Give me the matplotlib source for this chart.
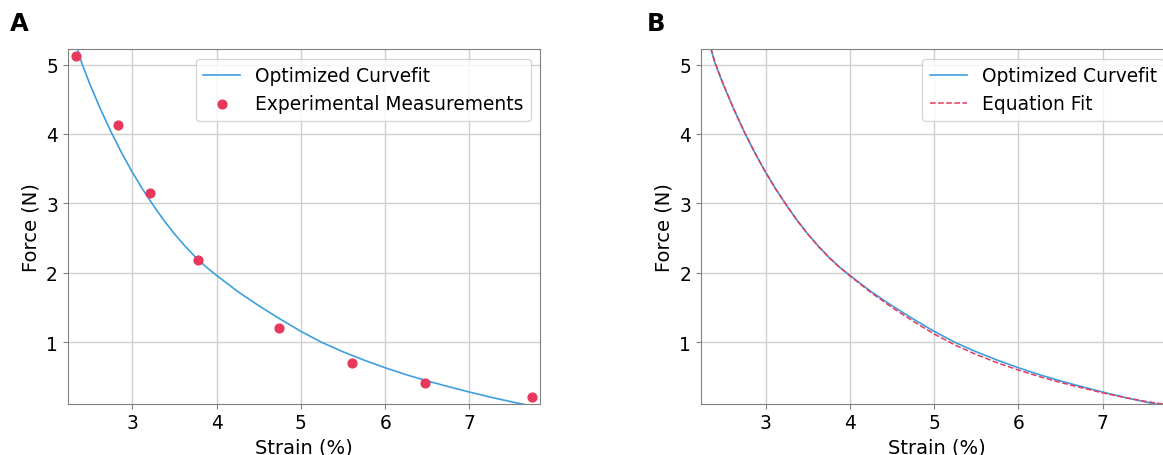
import matplotlib.pyplot as plt

# measured force vs strain
strain = [2.334, 2.829, 3.215, 3.784, 4.739, 5.602, 6.478, 7.741]
force = [5.12, 4.135, 3.154, 2.178, 1.197, 0.702, 0.409, 0.212]

# optimized curve fit, sampled
fit_strain = [2.300, 2.400, 2.500, 2.625, 2.750, 2.875, 3.000, 3.125, 3.250, 3.375,
              3.500, 3.625, 3.750, 3.875, 4.000, 4.250, 4.500, 4.750, 5.000, 5.250,
              5.500, 5.750, 6.000, 6.250, 6.500, 6.750, 7.000, 7.250, 7.500, 7.750,
              7.850]
fit_force = [5.45, 5.024, 4.709, 4.353, 4.025, 3.725, 3.450, 3.199, 2.970, 2.755,
             2.560, 2.385, 2.225, 2.085, 1.961, 1.730, 1.525, 1.335, 1.155, 0.995,
             0.860, 0.740, 0.630, 0.530, 0.440, 0.358, 0.280, 0.206, 0.139, 0.076,
             0.052]

# equation fit, sampled on the same strains
eq_force = [5.46, 5.030, 4.712, 4.354, 4.025, 3.725, 3.450, 3.199, 2.970, 2.755,
            2.559, 2.383, 2.222, 2.081, 1.956, 1.715, 1.500, 1.302, 1.117, 0.957,
            0.820, 0.702, 0.597, 0.503, 0.418, 0.342, 0.268, 0.203, 0.147, 0.101,
            0.087]

BLUE = '#3d9fdf'
RED = '#e8385b'
FS = 13.4

plt.rcParams['font.family'] = 'DejaVu Sans'

fig = plt.figure(figsize=(11.63, 4.56), dpi=100)
ax1 = fig.add_axes([0.0582, 0.1125, 0.4064, 0.7772])
ax2 = fig.add_axes([0.6027, 0.1125, 0.4064, 0.7772])

ax1.plot(fit_strain, fit_force, color=BLUE, lw=1.2, label='Optimized Curvefit')
ax1.scatter(strain, force, color=RED, s=40, zorder=3, label='Experimental Measurements')

ax2.plot(fit_strain, fit_force, color=BLUE, lw=1.2, label='Optimized Curvefit')
ax2.plot(fit_strain, eq_force, color=RED, lw=1.1, ls='--', label='Equation Fit')

xlim = (min(strain) - 0.1, max(strain) + 0.1)
ylim = (min(force) - 0.1, max(force) + 0.1)

for ax in (ax1, ax2):
    ax.set_xlim(*xlim)
    ax.set_ylim(*ylim)
    ax.set_xticks([3, 4, 5, 6, 7])
    ax.set_yticks([1, 2, 3, 4, 5])
    ax.grid(True, color='#cfcfcf', lw=1)
    ax.set_axisbelow(True)
    ax.tick_params(labelsize=FS, color='#808080')
    for sp in ax.spines.values():
        sp.set_color('#808080')
    ax.set_xlabel('Strain (%)', fontsize=14)
    ax.set_ylabel('Force (N)', fontsize=14)
    ax.legend(loc='upper right', fontsize=FS)

fig.text(0.0086, 0.932, 'A', fontsize=17.5, fontweight='bold')
fig.text(0.5563, 0.932, 'B', fontsize=17.5, fontweight='bold')

fig.savefig('out.png', dpi=100)
